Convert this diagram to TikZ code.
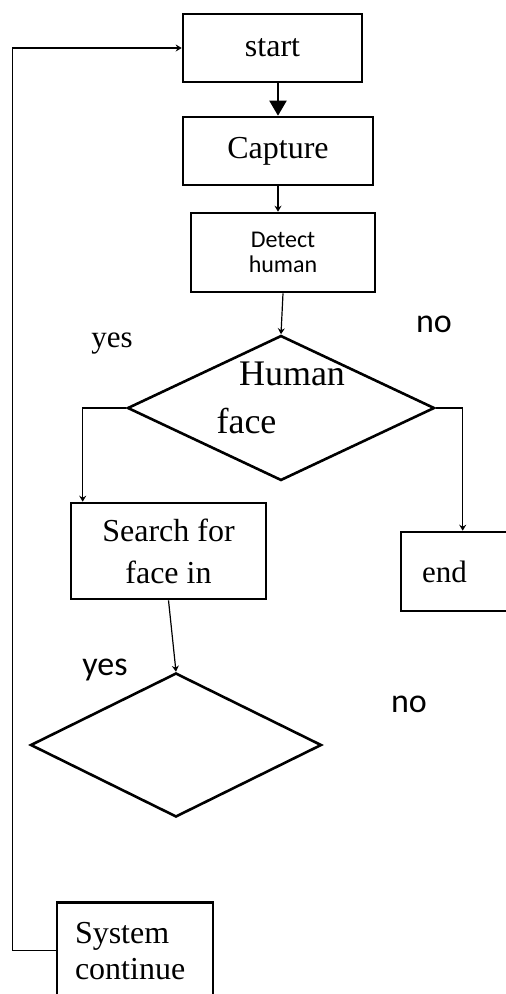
\documentclass[tikz,border=0pt]{standalone}
\usepackage{fontspec}
\setmainfont{Liberation Serif}
\newfontfamily\labelfont{Carlito}
\usetikzlibrary{shapes.geometric, arrows.meta}

\begin{document}
\begin{tikzpicture}[x=1pt, y=-1pt,
    box/.style={draw, line width=2.6pt, inner sep=0pt, align=center, font=\fontsize{32}{36}\selectfont},
    decision/.style={draw, diamond, line width=2.6pt, inner sep=0pt},
    link/.style={line width=1.2pt, -{Stealth[length=6pt, width=7pt, inset=2pt]}},
    tag/.style={anchor=base, inner sep=0pt}]
    \useasboundingbox (0,0) rectangle (506,994);

    % Boxes
    \node[box, minimum width=179pt, minimum height=68pt] (start) at (272.5,48) {start};
    \node[box, minimum width=190pt, minimum height=68pt] (capture) at (278,151) {Capture};
    \node[box, minimum width=184pt, minimum height=79pt, font=\labelfont\fontsize{24}{25}\selectfont] (detect) at (283,252.5) {Detect\\human};
    \node[box, minimum width=195pt, minimum height=96pt, font=\fontsize{32}{42}\selectfont] (search) at (168.5,551) {Search for\\face in};
    \node[box, minimum height=79pt, text width=67pt, inner xsep=21pt, align=left, font=\fontsize{31}{36}\selectfont] (finish) at (455.5,571.5) {end};
    \node[box, anchor=north, text width=120pt, inner xsep=18pt, inner ysep=19.5pt, align=left] (system) at (135,901) {System\\continue};

    % Decisions
    \node[decision, minimum width=307pt, minimum height=145pt] (q1) at (281,408) {};
    \node[decision, minimum width=291pt, minimum height=144pt] (q2) at (176,745) {};
    \node[tag, font=\fontsize{36}{40}\selectfont] (human) at (292,385) {Human};
    \node[tag, font=\fontsize{36}{40}\selectfont] (face) at (246.5,433) {face};

    % Labels
    \node[tag, font=\fontsize{31}{36}\selectfont] (yes1) at (112,347) {yes};
    \node[tag, font=\labelfont\fontsize{34}{40}\selectfont] (no1) at (434,332) {no};
    \node[tag, font=\labelfont\fontsize{34}{40}\selectfont] (yes2) at (105,675) {yes};
    \node[tag, font=\labelfont\fontsize{34}{40}\selectfont] (no2) at (409,712) {no};

    % Links
    \draw[line width=2pt, -{Triangle[length=15pt, width=17pt]}] (capture.north |- start.south) -- (capture.north);
    \draw[link] (capture.south) -- (capture.south |- detect.north);
    \draw[link] (detect.south) -- (q1.north);
    \draw[link] (q1.west) -| ([xshift=13pt]search.north west);
    \draw[link] (q1.east) -| ([xshift=63pt]finish.north west);
    \draw[link] (search.south) -- (q2.north);
    \draw[link] (system.west) -- ++(-43pt,0) |- (start.west);
\end{tikzpicture}
\end{document}
